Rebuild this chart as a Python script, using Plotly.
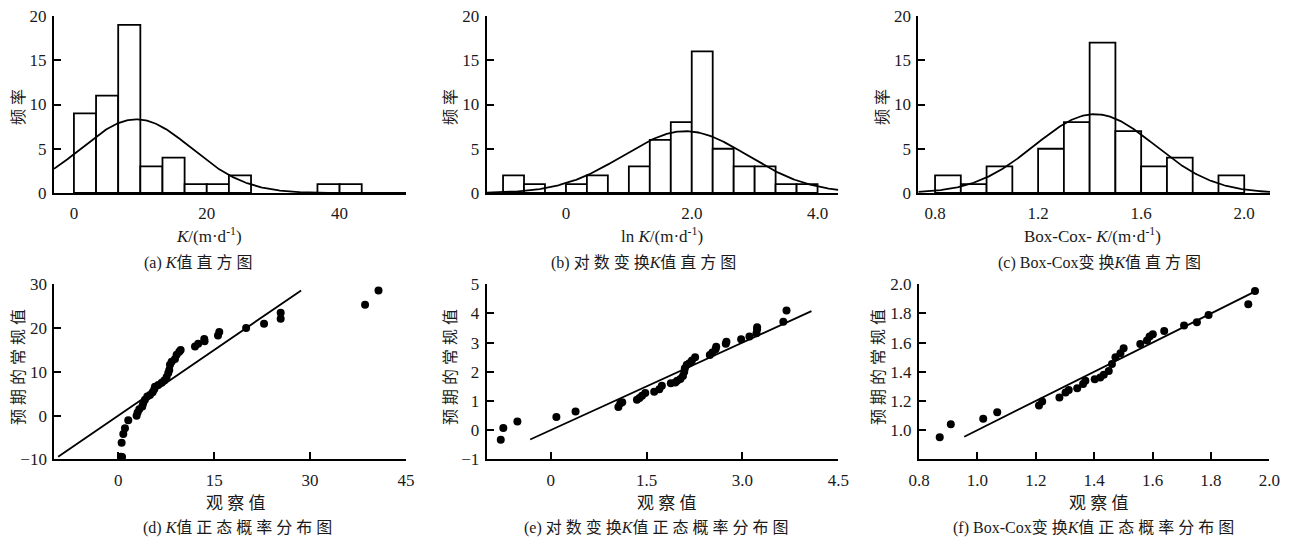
import numpy as np
import plotly.graph_objects as go

W, H = 1291, 542
N_TOTAL = 52

# ---------------- histogram data ----------------
a_bin_left = [0.0, 3.333, 6.667, 10.0, 13.333, 16.667, 20.0, 23.333, 36.667, 40.0]
a_counts = [9, 11, 19, 3, 4, 1, 1, 2, 1, 1]
a_bin_w = 3.333
a_mu, a_sigma = 9.4, 8.3

b_bin_left = [-1.0, -0.667, -0.333, 0.0, 0.333, 0.667, 1.0, 1.333, 1.667, 2.0, 2.333, 2.667, 3.0, 3.333, 3.667]
b_counts = [2, 1, 0, 1, 2, 0, 3, 6, 8, 16, 5, 3, 3, 1, 1]
b_bin_w = 0.3333
b_mu, b_sigma = 1.9, 0.99

c_bin_left = [0.8, 0.9, 1.0, 1.1, 1.2, 1.3, 1.4, 1.5, 1.6, 1.7, 1.8, 1.9]
c_counts = [2, 1, 3, 0, 5, 8, 17, 7, 3, 4, 0, 2]
c_bin_w = 0.1
c_mu, c_sigma = 1.42, 0.233

# ---------------- Q-Q data ----------------
d_obs = [0.42, 0.6, 0.53, 0.79, 1.05, 1.57, 2.87, 3.03, 3.29, 3.76, 3.9, 4.17, 4.54, 4.96,
         5.38, 5.63, 5.74, 6.26, 6.79, 7.2, 7.57, 7.82, 7.98, 8.09, 8.35, 8.87, 9.13, 9.54,
         9.76, 12.0, 12.5, 13.45, 13.5, 15.6, 15.8, 20.0, 22.8, 25.4, 25.4, 38.6, 40.7]
d_exp = [-9.4, -9.5, -6.2, -4.2, -2.9, -1.1, -0.07, 0.7, 1.46, 2.06, 2.8, 3.6, 4.35, 4.7,
         5.3, 6.0, 6.6, 7.0, 7.5, 8.0, 8.8, 9.7, 10.4, 11.6, 12.3, 12.9, 13.9, 14.6,
         15.0, 15.8, 16.4, 17.5, 17.0, 18.3, 19.1, 20.0, 21.0, 22.1, 23.5, 25.3, 28.6]
d_line = [-9.4, 28.6]

e_obs = [-0.78, -0.74, -0.52, 0.09, 0.39, 1.06, 1.09, 1.12, 1.35, 1.39, 1.43, 1.48, 1.62,
         1.70, 1.74, 1.88, 1.95, 1.98, 2.03, 2.07, 2.09, 2.10, 2.13, 2.17, 2.21, 2.26, 2.49,
         2.53, 2.58, 2.59, 2.74, 2.75, 2.98, 3.11, 3.22, 3.23, 3.23, 3.64, 3.69]
e_exp = [-0.33, 0.07, 0.3, 0.45, 0.64, 0.79, 0.92, 0.96, 1.04, 1.1, 1.18, 1.27, 1.32,
         1.40, 1.52, 1.61, 1.63, 1.69, 1.75, 1.86, 2.0, 2.12, 2.24, 2.29, 2.39, 2.5, 2.58,
         2.66, 2.77, 2.86, 2.96, 3.03, 3.12, 3.21, 3.32, 3.46, 3.53, 3.72, 4.1]
e_line = [-0.32, 4.08]

f_obs = [0.871, 0.909, 1.02, 1.068, 1.211, 1.222, 1.281, 1.302, 1.313, 1.342, 1.362, 1.37,
         1.402, 1.421, 1.433, 1.45, 1.461, 1.473, 1.49, 1.501, 1.558, 1.581, 1.59, 1.601,
         1.64, 1.708, 1.752, 1.792, 1.928, 1.951]
f_exp = [0.952, 1.041, 1.078, 1.123, 1.169, 1.196, 1.224, 1.258, 1.276, 1.288, 1.317, 1.338,
         1.349, 1.361, 1.379, 1.406, 1.454, 1.5, 1.527, 1.562, 1.591, 1.614, 1.642, 1.658,
         1.68, 1.717, 1.74, 1.79, 1.863, 1.954]
f_line = [0.955, 1.945]

# ---------------- layout geometry (pixels) ----------------
def px_x(a, b):
    return [a / W, b / W]

def px_y(top, bottom):
    return [1 - bottom / H, 1 - top / H]

SERIF = "Liberation Serif, Times New Roman, serif"
CJK = "Liberation Serif, Noto Sans CJK SC, serif"
TXT = "#1a1a1a"

fig = go.Figure()


def add_hist(idx, lefts, counts, w, mu, sigma, xr):
    xa = "x" if idx == 1 else f"x{idx}"
    ya = "y" if idx == 1 else f"y{idx}"
    fig.add_trace(go.Bar(x=lefts, y=counts, width=w, offset=0,
                         marker=dict(color="white", line=dict(color="black", width=1.8)),
                         xaxis=xa, yaxis=ya, showlegend=False, hoverinfo="skip"))
    xs = np.linspace(xr[0], xr[1], 300)
    ys = N_TOTAL * w / (sigma * np.sqrt(2 * np.pi)) * np.exp(-0.5 * ((xs - mu) / sigma) ** 2)
    fig.add_trace(go.Scatter(x=xs, y=ys, mode="lines", line=dict(color="black", width=1.8),
                             xaxis=xa, yaxis=ya, showlegend=False, cliponaxis=False))


def add_qq(idx, obs, exp, line):
    xa = f"x{idx}"
    ya = f"y{idx}"
    fig.add_trace(go.Scatter(x=line, y=line, mode="lines", line=dict(color="black", width=1.8),
                             xaxis=xa, yaxis=ya, showlegend=False))
    fig.add_trace(go.Scatter(x=obs, y=exp, mode="markers", marker=dict(color="black", size=8),
                             xaxis=xa, yaxis=ya, showlegend=False, cliponaxis=False))


a_xr = [-3, 50]
b_xr = [-1.26, 4.33]
c_xr = [0.735, 2.1]
add_hist(1, a_bin_left, a_counts, a_bin_w, a_mu, a_sigma, a_xr)
add_hist(2, b_bin_left, b_counts, b_bin_w, b_mu, b_sigma, b_xr)
add_hist(3, c_bin_left, c_counts, c_bin_w, c_mu, c_sigma, c_xr)
add_qq(4, d_obs, d_exp, d_line)
add_qq(5, e_obs, e_exp, e_line)
add_qq(6, f_obs, f_exp, f_line)

tickfont = dict(family=SERIF, size=17, color=TXT)
base_x = dict(showline=True, linecolor="black", linewidth=2, showgrid=False, zeroline=False,
              tickfont=tickfont, ticklabelstandoff=4, automargin=False)
base_y = dict(showline=True, linecolor="black", linewidth=2, showgrid=False, zeroline=False,
              tickfont=tickfont, ticks="inside", ticklen=7, tickwidth=2, tickcolor="black",
              automargin=False, ticklabelstandoff=2)
qq_ticks = dict(ticks="inside", ticklen=7, tickwidth=2, tickcolor="black")
base_xq = {**base_x, **qq_ticks}

top_y = px_y(16, 193)
bot_y = px_y(284.3, 459.3)

layout = dict(
    template="none",
    width=W, height=H, margin=dict(l=0, r=0, t=0, b=0, autoexpand=False),
    plot_bgcolor="white", paper_bgcolor="white", bargap=0,
    xaxis=dict(base_x, domain=px_x(54, 406), range=a_xr, anchor="y",
               tickvals=[0, 20, 40], ticktext=["0", "20", "40"], ticks=""),
    yaxis=dict(base_y, domain=top_y, range=[0, 20], anchor="x", tickvals=[0, 5, 10, 15, 20]),
    xaxis2=dict(base_x, domain=px_x(486.7, 838.3), range=b_xr, anchor="y2",
                tickvals=[0, 2, 4], ticktext=["0", "2.0", "4.0"], ticks=""),
    yaxis2=dict(base_y, domain=top_y, range=[0, 20], anchor="x2", tickvals=[0, 5, 10, 15, 20]),
    xaxis3=dict(base_x, domain=px_x(918.3, 1270), range=c_xr, anchor="y3",
                tickvals=[0.8, 1.2, 1.6, 2.0], ticktext=["0.8", "1.2", "1.6", "2.0"], ticks=""),
    yaxis3=dict(base_y, domain=top_y, range=[0, 20], anchor="x3", tickvals=[0, 5, 10, 15, 20]),
    xaxis4=dict(base_xq, domain=px_x(54.3, 406), range=[-10, 45], anchor="y4",
                tickvals=[0, 15, 30, 45]),
    yaxis4=dict(base_y, domain=bot_y, range=[-10, 30], anchor="x4", tickvals=[-10, 0, 10, 20, 30]),
    xaxis5=dict(base_xq, domain=px_x(486.7, 838.3), range=[-1, 4.5], anchor="y5",
                tickvals=[0, 1.5, 3.0, 4.5], ticktext=["0", "1.5", "3.0", "4.5"]),
    yaxis5=dict(base_y, domain=bot_y, range=[-1, 5], anchor="x5", tickvals=[-1, 0, 1, 2, 3, 4, 5]),
    xaxis6=dict(base_xq, domain=px_x(919, 1269.3), range=[0.8, 2.0], anchor="y6",
                tickvals=[0.8, 1.0, 1.2, 1.4, 1.6, 1.8, 2.0],
                ticktext=["0.8", "1.0", "1.2", "1.4", "1.6", "1.8", "2.0"]),
    yaxis6=dict(base_y, domain=bot_y, range=[0.8, 2.0], anchor="x6",
                tickvals=[1.0, 1.2, 1.4, 1.6, 1.8, 2.0],
                ticktext=["1.0", "1.2", "1.4", "1.6", "1.8", "2.0"]),
)
fig.update_layout(**layout)


def ann(text, x, y, size=16, angle=0):
    fig.add_annotation(text=text, x=x / W, y=1 - y / H, xref="paper", yref="paper",
                       showarrow=False, textangle=angle, xanchor="center", yanchor="middle",
                       font=dict(family=CJK, size=size, color=TXT))

# x-axis titles
ann("<i>K</i>/(m·d<sup>-1</sup>)", 209, 235, size=17)
ann("ln <i>K</i>/(m·d<sup>-1</sup>)", 662, 235, size=17)
ann("Box-Cox- <i>K</i>/(m·d<sup>-1</sup>)", 1092, 235, size=17)
ann("观 察 值", 236, 503, size=17)
ann("观 察 值", 667, 503, size=17)
ann("观 察 值", 1099, 503, size=17)
# y-axis titles
for xp in (18, 450, 882):
    ann("频 率", xp, 107, size=16, angle=-90)
for xp in (18, 450, 878):
    ann("预 期 的 常 规 值", xp, 367, size=16, angle=-90)
# captions
ann("(a) <i>K</i>值 直 方 图", 198, 263)
ann("(b) 对 数 变 换<i>K</i>值 直 方 图", 643, 263)
ann("(c) Box-Cox变 换<i>K</i>值 直 方 图", 1099, 263)
ann("(d) <i>K</i>值 正 态 概 率 分 布 图", 237, 528)
ann("(e) 对 数 变 换<i>K</i>值 正 态 概 率 分 布 图", 656, 528)
ann("(f) Box-Cox变 换<i>K</i>值 正 态 概 率 分 布 图", 1093, 528)

fig.write_html(
    "out.html",
    config={"displayModeBar": False, "staticPlot": True},
    post_script="document.documentElement.style.margin='0';document.body.style.margin='0';"
                "document.body.style.padding='0';document.body.style.overflow='hidden';",
)
